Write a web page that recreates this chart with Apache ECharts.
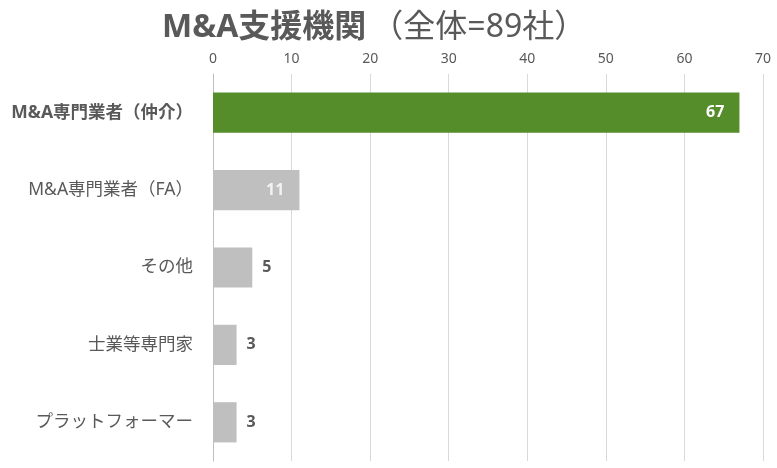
<!DOCTYPE html>
<html><head><meta charset="utf-8">
<script src="https://cdn.jsdelivr.net/npm/echarts@6/dist/echarts.min.js"></script>
<style>html,body{margin:0;padding:0;background:#fff}#c{width:777px;height:468px}</style>
</head><body><div id="c"></div>
<script>
const categories = ["M&A専門業者（仲介）", "M&A専門業者（FA）", "その他", "士業等専門家", "プラットフォーマー"];
const values = [67, 11, 5, 3, 3];
const barColors = ["#548d2a", "#bfbfbf", "#bfbfbf", "#bfbfbf", "#bfbfbf"];
const axisTicks = [0, 10, 20, 30, 40, 50, 60, 70];

const FONT = '"Noto Sans", "Noto Sans CJK JP", sans-serif';
const chart = echarts.init(document.getElementById('c'), null, {renderer: 'canvas'});
chart.setOption({
  animation: false,
  title: {
    text: '{b|M&A支援機関} {r|（全体=89社）}',
    left: 157, top: 7,
    textStyle: {
      rich: {
        b: {fontFamily: FONT, fontSize: 32, fontWeight: 'bold', color: '#595959'},
        r: {fontFamily: FONT, fontSize: 32, fontWeight: 'normal', color: '#595959'}
      }
    }
  },
  grid: {left: 213, right: 14, top: 74, bottom: 7, containLabel: false},
  xAxis: {
    type: 'value', position: 'top', min: axisTicks[0], max: axisTicks[axisTicks.length-1], interval: 10,
    axisLine: {show: false}, axisTick: {show: false},
    axisLabel: {fontFamily: FONT, fontSize: 14, color: '#595959', margin: 8},
    splitLine: {show: true, lineStyle: {color: '#d9d9d9', width: 1}}
  },
  yAxis: {
    type: 'category', inverse: true, data: categories,
    axisLine: {show: true, lineStyle: {color: '#bfbfbf', width: 1}},
    axisTick: {show: false},
    axisLabel: {
      fontFamily: FONT, fontSize: 17.5, color: '#595959', margin: 20,
      formatter: (v, i) => i === 0 ? '{b|' + v + '}' : v,
      rich: {b: {fontFamily: FONT, fontSize: 17.5, fontWeight: 'bold', color: '#595959'}}
    }
  },
  series: [{
    type: 'bar', barWidth: '52%',
    data: values.map((v, i) => ({
      value: v,
      itemStyle: {color: barColors[i]},
      label: i < 2 ? {show: true, position: 'insideRight', distance: 15, color: i === 0 ? '#ffffff' : '#f2f2f2'}
                   : {show: true, position: 'right', distance: 10, color: '#595959'}
    })),
    label: {fontFamily: FONT, fontSize: 16, fontWeight: 'bold'}
  }]
});
</script></body></html>
